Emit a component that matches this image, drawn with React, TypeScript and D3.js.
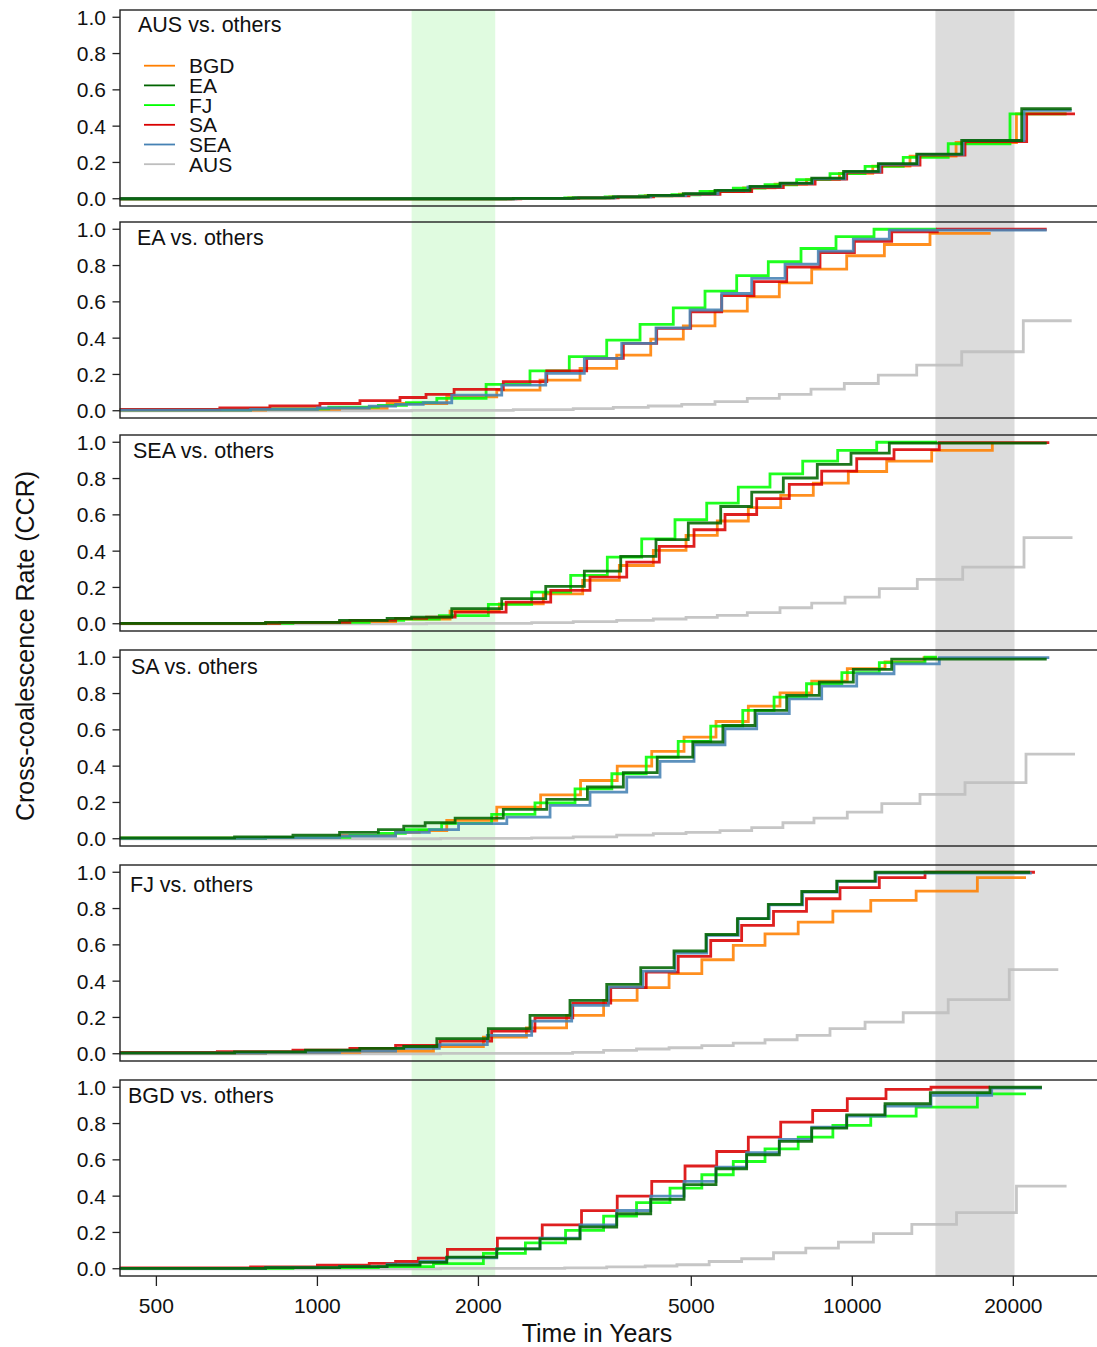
import React from 'react';
import * as d3 from 'd3';

type Pt = [number, number];

// ---------- data: [time in years, CCR] step points ----------
// Panel 1: AUS vs. others
const ausBGD: Pt[] = [[427,0],[2300,0.002],[2950,0.005],[3520,0.01],[4100,0.017],[4750,0.025],[5419,0.04],[6262,0.06],[7169,0.08],[8210,0.105],[9460,0.14],[10920,0.18],[12819,0.235],[15630,0.31],[20270,0.468],[25150,0.468]];
const ausEA: Pt[] = [[427,0],[2324,0.002],[3008,0.005],[3574,0.01],[4155,0.018],[4831,0.028],[5537,0.046],[6438,0.068],[7325,0.086],[8396,0.114],[9629,0.151],[11184,0.193],[13194,0.246],[16013,0.321],[20733,0.496],[25711,0.496]];
const ausFJ: Pt[] = [[427,0],[2250,0.002],[2900,0.005],[3450,0.01],[4000,0.016],[4600,0.022],[5191,0.04],[5991,0.059],[6867,0.077],[7870,0.105],[9084,0.138],[10564,0.178],[12450,0.228],[15110,0.303],[19714,0.468],[25150,0.468]];
const ausSA: Pt[] = [[427,0],[2400,0.002],[3080,0.005],[3650,0.01],[4250,0.016],[4950,0.024],[5658,0.04],[6485,0.062],[7430,0.08],[8520,0.108],[9761,0.145],[11354,0.185],[13383,0.24],[16243,0.315],[21180,0.468],[26080,0.468]];
const ausSEA: Pt[] = [[427,0],[2350,0.002],[3040,0.005],[3600,0.01],[4200,0.017],[4880,0.026],[5610,0.045],[6380,0.065],[7354,0.085],[8430,0.11],[9691,0.148],[11266,0.19],[13270,0.244],[16120,0.32],[20940,0.487],[25711,0.487]];

// Panel 2: EA vs. others
const eaBGD: Pt[] = [[427,0.003],[800,0.008],[1100,0.015],[1350,0.04],[1745,0.077],[2164,0.114],[2607,0.169],[3097,0.233],[3627,0.307],[4199,0.395],[4831,0.468],[5537,0.549],[6363,0.628],[7303,0.705],[8396,0.78],[9761,0.854],[11480,0.916],[13971,0.977],[18142,0.977]];
const eaFJ: Pt[] = [[427,0.005],[750,0.01],[1050,0.02],[1300,0.03],[1467,0.045],[1672,0.068],[2067,0.145],[2497,0.22],[2957,0.298],[3474,0.389],[4010,0.476],[4627,0.567],[5304,0.659],[6079,0.744],[6965,0.821],[8018,0.894],[9322,0.959],[10979,1.0],[14380,1.0]];
const eaSA: Pt[] = [[427,0.007],[657,0.015],[815,0.026],[1011,0.04],[1201,0.056],[1427,0.073],[1596,0.09],[1801,0.118],[2226,0.16],[2684,0.22],[3187,0.288],[3732,0.371],[4308,0.454],[4987,0.545],[5699,0.634],[6550,0.711],[7539,0.792],[8701,0.872],[10090,0.934],[11847,0.986],[14417,1.0],[23089,1.0]];
const eaSEA: Pt[] = [[427,0.003],[750,0.008],[1000,0.015],[1250,0.025],[1400,0.035],[1577,0.044],[1783,0.086],[2211,0.141],[2672,0.206],[3155,0.288],[3706,0.371],[4295,0.457],[4972,0.555],[5699,0.646],[6485,0.729],[7485,0.808],[8637,0.88],[10043,0.946],[11726,0.995],[23089,0.995]];
const eaAUS: Pt[] = [[427,0],[1500,0.002],[2324,0.006],[3008,0.012],[3574,0.018],[4155,0.026],[4798,0.035],[5537,0.05],[6363,0.068],[7303,0.09],[8371,0.119],[9661,0.15],[11184,0.196],[13194,0.251],[16013,0.325],[20876,0.496],[25711,0.496]];

// Panel 3: SEA vs. others
const seaBGD: Pt[] = [[427,0.002],[800,0.006],[1100,0.012],[1400,0.025],[1770,0.07],[2188,0.11],[2644,0.165],[3133,0.239],[3668,0.321],[4246,0.404],[4888,0.487],[5592,0.566],[6391,0.64],[7347,0.707],[8454,0.775],[9829,0.839],[11595,0.896],[14073,0.955],[18271,0.99],[18350,0.99]];
const seaEA: Pt[] = [[427,0.002],[800,0.008],[1100,0.018],[1350,0.03],[1500,0.037],[1783,0.083],[2211,0.138],[2672,0.206],[3155,0.29],[3690,0.371],[4295,0.463],[4936,0.555],[5675,0.646],[6485,0.725],[7430,0.803],[8600,0.878],[9944,0.94],[11726,0.995],[23089,0.995]];
const seaFJ: Pt[] = [[427,0.002],[900,0.008],[1250,0.018],[1450,0.025],[1690,0.045],[2087,0.107],[2515,0.174],[2975,0.266],[3483,0.367],[4039,0.468],[4661,0.573],[5343,0.665],[6121,0.753],[7016,0.826],[8077,0.896],[9390,0.955],[11107,1.0],[14400,1.0]];
const seaSA: Pt[] = [[427,0.002],[850,0.008],[1150,0.018],[1400,0.03],[1600,0.037],[1809,0.064],[2253,0.119],[2730,0.184],[3233,0.257],[3787,0.34],[4357,0.426],[5059,0.518],[5781,0.602],[6626,0.689],[7624,0.768],[8765,0.841],[10191,0.909],[11966,0.959],[14543,0.998],[23349,0.998]];
const seaAUS: Pt[] = [[427,0],[1600,0.002],[2515,0.006],[3008,0.012],[3627,0.018],[4246,0.026],[4888,0.035],[5592,0.046],[6363,0.061],[7325,0.088],[8396,0.114],[9691,0.147],[11232,0.193],[13228,0.244],[16083,0.312],[20940,0.474],[25800,0.474]];

// Panel 4: SA vs. others
const saBGD: Pt[] = [[427,0.003],[800,0.008],[1100,0.018],[1400,0.035],[1550,0.045],[1745,0.101],[2164,0.174],[2614,0.242],[3104,0.321],[3635,0.4],[4217,0.481],[4846,0.56],[5561,0.646],[6391,0.731],[7325,0.804],[8396,0.869],[9786,0.937],[11512,0.975],[13616,0.998],[14380,0.998]];
const saEA: Pt[] = [[427,0.005],[700,0.01],[900,0.02],[1100,0.035],[1300,0.05],[1450,0.07],[1590,0.088],[1809,0.114],[2226,0.162],[2684,0.217],[3197,0.285],[3732,0.364],[4318,0.45],[5032,0.533],[5728,0.624],[6578,0.707],[7539,0.79],[8675,0.863],[10043,0.933],[11847,0.99],[23089,0.99]];
const saFJ: Pt[] = [[427,0.003],[800,0.008],[1150,0.018],[1300,0.03],[1460,0.05],[1707,0.085],[2117,0.134],[2551,0.198],[3031,0.275],[3552,0.358],[4118,0.45],[4726,0.536],[5436,0.62],[6240,0.707],[7140,0.78],[8210,0.854],[9560,0.915],[11232,0.97],[13675,1.0],[14400,1.0]];
const saSEA: Pt[] = [[427,0.002],[800,0.006],[1100,0.015],[1400,0.035],[1619,0.05],[1836,0.083],[2260,0.119],[2722,0.184],[3233,0.257],[3787,0.34],[4370,0.426],[5059,0.518],[5781,0.606],[6626,0.689],[7624,0.771],[8765,0.841],[10191,0.909],[11966,0.964],[14543,0.998],[23349,0.998]];
const saAUS: Pt[] = [[427,0],[1700,0.002],[2515,0.005],[3008,0.01],[3627,0.02],[4246,0.028],[4888,0.035],[5658,0.045],[6485,0.061],[7417,0.088],[8479,0.114],[9786,0.147],[11354,0.193],[13383,0.244],[16243,0.309],[21120,0.466],[26080,0.466]];

// Panel 5: FJ vs. others
const fjBGD: Pt[] = [[427,0.003],[800,0.008],[1200,0.015],[1648,0.04],[2043,0.092],[2459,0.143],[2923,0.211],[3428,0.294],[3960,0.364],[4544,0.441],[5232,0.518],[5990,0.597],[6867,0.661],[7922,0.725],[9197,0.786],[10826,0.845],[13162,0.896],[17130,0.97],[21120,0.97]];
const fjEA: Pt[] = [[427,0.005],[700,0.01],[950,0.02],[1200,0.03],[1450,0.04],[1672,0.083],[2087,0.138],[2497,0.211],[2966,0.294],[3474,0.382],[4022,0.474],[4641,0.566],[5327,0.657],[6097,0.744],[6965,0.823],[8043,0.894],[9350,0.951],[11027,1.0],[21487,1.0]];
const fjSA: Pt[] = [[427,0.008],[650,0.012],[900,0.02],[1150,0.03],[1400,0.046],[1695,0.07],[2117,0.125],[2551,0.198],[3002,0.279],[3535,0.364],[4118,0.45],[4726,0.536],[5436,0.624],[6210,0.707],[7123,0.784],[8210,0.854],[9484,0.915],[11232,0.97],[13675,1.0],[21950,1.0]];
const fjSEA: Pt[] = [[427,0.003],[800,0.008],[1100,0.015],[1400,0.03],[1690,0.05],[2078,0.101],[2515,0.18],[2988,0.266],[3500,0.367],[4059,0.455],[4661,0.555],[5343,0.652],[6121,0.744],[6995,0.82],[8077,0.89],[9376,0.95],[11073,0.995],[21650,0.995]];
const fjAUS: Pt[] = [[427,0],[1700,0.002],[3000,0.008],[3428,0.018],[3950,0.026],[4544,0.033],[5232,0.045],[5990,0.059],[6867,0.077],[7885,0.101],[9084,0.138],[10564,0.174],[12450,0.226],[15110,0.298],[19650,0.463],[24270,0.463]];

// Panel 6: BGD vs. others
const bgdEA: Pt[] = [[427,0.002],[800,0.006],[1100,0.012],[1350,0.02],[1555,0.035],[1745,0.064],[2164,0.11],[2607,0.165],[3097,0.23],[3627,0.303],[4199,0.382],[4846,0.463],[5561,0.551],[6345,0.628],[7303,0.702],[8396,0.775],[9761,0.848],[11512,0.909],[13990,0.97],[18088,1.0],[22620,1.0]];
const bgdFJ: Pt[] = [[427,0.002],[900,0.006],[1300,0.012],[1648,0.028],[2043,0.085],[2448,0.143],[2910,0.211],[3428,0.29],[3950,0.364],[4562,0.444],[5232,0.518],[5990,0.591],[6867,0.661],[7922,0.725],[9197,0.79],[10826,0.841],[13162,0.891],[17130,0.964],[21120,0.964]];
const bgdSA: Pt[] = [[427,0.005],[750,0.01],[1000,0.02],[1250,0.03],[1400,0.04],[1544,0.059],[1750,0.107],[2170,0.169],[2632,0.242],[3117,0.32],[3635,0.4],[4217,0.481],[4867,0.566],[5578,0.646],[6391,0.725],[7347,0.808],[8431,0.872],[9786,0.937],[11560,0.988],[14030,1.0],[18088,1.0]];
const bgdSEA: Pt[] = [[427,0.002],[800,0.006],[1100,0.012],[1350,0.025],[1555,0.04],[1745,0.06],[2164,0.11],[2607,0.169],[3097,0.242],[3627,0.321],[4199,0.4],[4846,0.481],[5561,0.56],[6345,0.639],[7303,0.713],[8396,0.78],[9761,0.841],[11512,0.896],[14030,0.955],[18220,0.995],[22620,0.995]];
const bgdAUS: Pt[] = [[427,0],[1700,0.002],[2900,0.005],[3474,0.01],[4100,0.015],[4700,0.022],[5400,0.04],[6210,0.055],[7123,0.088],[8185,0.114],[9420,0.147],[10950,0.193],[12920,0.244],[15660,0.309],[20270,0.455],[25150,0.455]];

const legendNames = ['BGD', 'EA', 'FJ', 'SA', 'SEA', 'AUS'];
const colors: Record<string, string> = {
  BGD: '#FF7F00', EA: '#006400', FJ: '#00FF00', SA: '#D90000', SEA: '#4682B4', AUS: '#BEBEBE',
};
const drawOrder = ['AUS', 'BGD', 'FJ', 'SA', 'SEA', 'EA'];
const panelTitles = ['AUS vs. others', 'EA vs. others', 'SEA vs. others', 'SA vs. others', 'FJ vs. others', 'BGD vs. others'];
const panelSeries: Record<string, Pt[]>[] = [
  { BGD: ausBGD, EA: ausEA, FJ: ausFJ, SA: ausSA, SEA: ausSEA },
  { BGD: eaBGD, FJ: eaFJ, SA: eaSA, SEA: eaSEA, AUS: eaAUS },
  { BGD: seaBGD, EA: seaEA, FJ: seaFJ, SA: seaSA, AUS: seaAUS },
  { BGD: saBGD, EA: saEA, FJ: saFJ, SEA: saSEA, AUS: saAUS },
  { BGD: fjBGD, EA: fjEA, SA: fjSA, SEA: fjSEA, AUS: fjAUS },
  { EA: bgdEA, FJ: bgdFJ, SA: bgdSA, SEA: bgdSEA, AUS: bgdAUS },
];
const xTicks = [500, 1000, 2000, 5000, 10000, 20000];
const yTicks = [0, 0.2, 0.4, 0.6, 0.8, 1.0];
const greenBand: [number, number] = [1500, 2150];
const grayBand: [number, number] = [14300, 20100];

// ---------- layout ----------
const W = 1097;
const H = 1347;
const LEFT = 120;
const RIGHT = 1100;
const PANEL_H = 196;
const panelTops = [10, 222, 435, 650, 865, 1080];
const titleX = [138, 137, 133, 131, 130, 128];
const titleDY = [15, 16, 16, 17, 20, 16];
const FONT = '"Liberation Sans", Arial, Helvetica, sans-serif';

export default function App() {
  const x = d3.scaleLog().domain([427.5, 29043]).range([LEFT, RIGHT]);
  const bandTop = panelTops[0];
  const bandBottom = panelTops[5] + PANEL_H;

  return (
    <svg width={W} height={H} style={{ position: 'absolute', left: 0, top: 0, background: '#fff' }} fontFamily={FONT}>
      <rect x={0} y={0} width={W} height={H} fill="#fff" />
      <rect x={x(greenBand[0])} y={bandTop} width={x(greenBand[1]) - x(greenBand[0])} height={bandBottom - bandTop} fill="#E0FBE0" />
      <rect x={x(grayBand[0])} y={bandTop} width={x(grayBand[1]) - x(grayBand[0])} height={bandBottom - bandTop} fill="#DCDCDC" />
      {panelTops.map((top, pi) => {
        const y = d3.scaleLinear().domain([-0.04, 1.04]).range([top + PANEL_H, top]);
        const line = d3.line<Pt>().x(d => x(d[0])).y(d => y(d[1])).curve(d3.curveStepAfter);
        const series = panelSeries[pi];
        return (
          <g key={pi}>
            {drawOrder.filter(n => series[n]).map(n => (
              <path key={n} d={line(series[n]) || ''} fill="none" stroke={colors[n]} strokeWidth={2.8} strokeOpacity={0.88} />
            ))}
            <rect x={LEFT} y={top} width={RIGHT - LEFT} height={PANEL_H} fill="none" stroke="#222" strokeWidth={1.4} />
            {yTicks.map(t => (
              <g key={t}>
                <line x1={LEFT - 7.5} x2={LEFT} y1={y(t)} y2={y(t)} stroke="#222" strokeWidth={1.3} />
                <text x={106} y={y(t)} textAnchor="end" dominantBaseline="central" fontSize={21} fill="#111">{t.toFixed(1)}</text>
              </g>
            ))}
            <text x={titleX[pi]} y={top + titleDY[pi]} dominantBaseline="central" fontSize={21.5} fill="#111">{panelTitles[pi]}</text>
          </g>
        );
      })}
      {/* legend */}
      {legendNames.map((n, i) => (
        <g key={n}>
          <line x1={144} x2={175} y1={65.7 + i * 19.7} y2={65.7 + i * 19.7} stroke={colors[n]} strokeWidth={1.8} />
          <text x={189} y={65.7 + i * 19.7} dominantBaseline="central" fontSize={21} fill="#111">{n}</text>
        </g>
      ))}
      {/* x axis */}
      {xTicks.map(t => (
        <g key={t}>
          <line x1={x(t)} x2={x(t)} y1={panelTops[5] + PANEL_H} y2={panelTops[5] + PANEL_H + 10} stroke="#222" strokeWidth={1.3} />
          <text x={x(t)} y={1305} textAnchor="middle" dominantBaseline="central" fontSize={21} fill="#111">{t}</text>
        </g>
      ))}
      <text x={597} y={1333} textAnchor="middle" dominantBaseline="central" fontSize={25} fill="#111">Time in Years</text>
      <text transform="translate(25,646) rotate(-90)" textAnchor="middle" dominantBaseline="central" fontSize={25} fill="#111">Cross-coalescence Rate (CCR)</text>
    </svg>
  );
}
